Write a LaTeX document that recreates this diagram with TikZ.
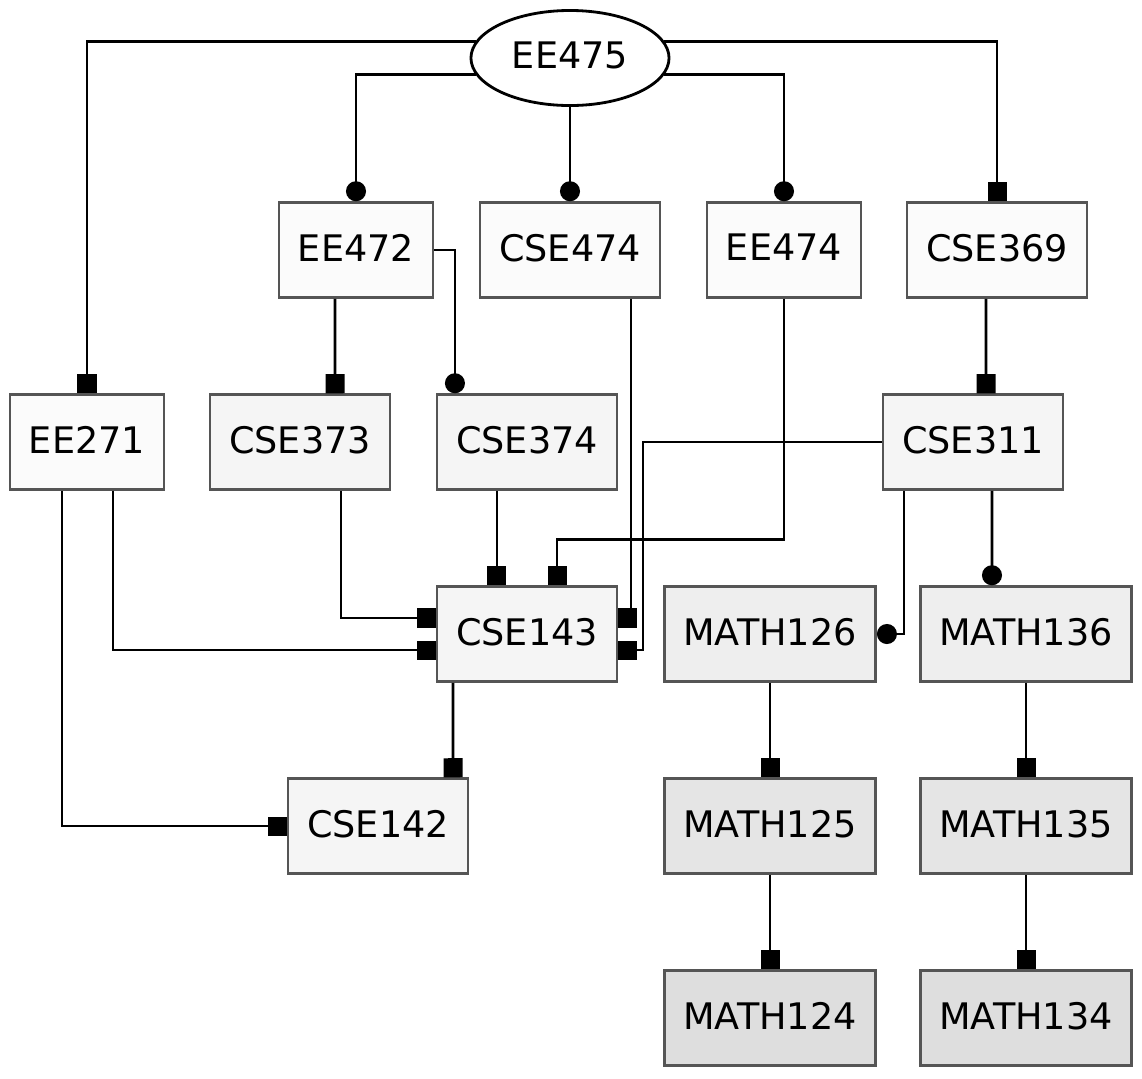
\documentclass[tikz,border=0pt]{standalone}
\usepackage{fontspec}
\setmainfont{DejaVu Sans}
\usetikzlibrary{arrows.meta,shapes.geometric}

\definecolor{fillA}{HTML}{FBFBFB}
\definecolor{fillB}{HTML}{F5F5F5}
\definecolor{fillC}{HTML}{EEEEEE}
\definecolor{fillD}{HTML}{E5E5E5}
\definecolor{fillE}{HTML}{DEDEDE}
\definecolor{boxline}{HTML}{555555}

\begin{document}
\begin{tikzpicture}[x=0.01cm,y=-0.01cm]

\useasboundingbox (0,0) rectangle (1142,1078);

\tikzset{Course/.style={shape=rectangle, draw=boxline, line width=0.7pt,
        minimum height=0.95cm, inner xsep=0.19cm, text depth=0.05cm,
        font=\fontsize{10.4}{12}\selectfont}}

\begin{scope}[every node/.style={Course}]
    % Top course
    \node (EE475) at (570,58) [shape=ellipse, draw=black, line width=0.8pt,
        minimum width=1.98cm, minimum height=0.95cm, inner sep=0pt] {EE475};

    % Second row
    \node (EE472) at (356,250) [fill=fillA] {EE472};
    \node (CSE474) at (570,250) [fill=fillA] {CSE474};
    \node (EE474) at (784,250) [fill=fillA] {EE474};
    \node (CSE369) at (997,250) [fill=fillA] {CSE369};

    % Third row
    \node (EE271) at (87,442) [fill=fillA] {EE271};
    \node (CSE373) at (300,442) [fill=fillB] {CSE373};
    \node (CSE374) at (527,442) [fill=fillB] {CSE374};
    \node (CSE311) at (973,442) [fill=fillB] {CSE311};

    % Fourth row
    \node (CSE143) at (527,634) [fill=fillB] {CSE143};
    \node (MATH126) at (770,634) [fill=fillC] {MATH126};
    \node (MATH136) at (1026,634) [fill=fillC] {MATH136};

    % Lower rows
    \node (CSE142) at (378,826) [fill=fillB] {CSE142};
    \node (MATH125) at (770,826) [fill=fillD] {MATH125};
    \node (MATH135) at (1026,826) [fill=fillD] {MATH135};
    \node (MATH124) at (770,1018) [fill=fillE] {MATH124};
    \node (MATH134) at (1026,1018) [fill=fillE] {MATH134};
\end{scope}

\tikzset{SqEnd/.style={-{Square[length=0.19cm,width=0.19cm]}},
         DotEnd/.style={-{Circle[length=0.2cm]}}}

\begin{scope}[line width=0.8pt]
    % Edges from EE475
    \draw [SqEnd] (EE475.170) -| (EE271);
    \draw [DotEnd] (EE475.190) -| (EE472);
    \draw [DotEnd] (EE475) -- (CSE474);
    \draw [DotEnd] (EE475.350) -| (EE474);
    \draw [SqEnd] (EE475.10) -| (CSE369);

    % Edges from the second row
    \draw [SqEnd] ([xshift=-0.21cm]EE472.south) -- ([xshift=0.35cm]CSE373.north);
    \draw [DotEnd] (EE472.east) -| ([xshift=-0.72cm]CSE374.north);
    \draw [SqEnd] ([xshift=0.61cm]CSE474.south) |- ([yshift=0.16cm]CSE143.east);
    \draw [SqEnd] (EE474.south) -- ++(0,241) -| ([xshift=0.3cm]CSE143.north);
    \draw [SqEnd] ([xshift=-0.11cm]CSE369.south) -- ([xshift=0.13cm]CSE311.north);

    % Edges into CSE143
    \draw [SqEnd] ([xshift=-0.3cm]CSE374.south) -- ([xshift=-0.3cm]CSE143.north);
    \draw [SqEnd] ([xshift=0.41cm]CSE373.south) |- ([yshift=0.16cm]CSE143.west);
    \draw [SqEnd] ([xshift=0.26cm]EE271.south) |- ([yshift=-0.16cm]CSE143.west);
    \draw [SqEnd] (CSE311.west) -- ++(-239,0) |- ([yshift=-0.16cm]CSE143.east);

    % Edges into CSE142
    \draw [SqEnd] ([xshift=-0.25cm]EE271.south) |- (CSE142.west);
    \draw [SqEnd] ([xshift=-0.74cm]CSE143.south) -- ([xshift=0.75cm]CSE142.north);

    % Math chain
    \draw [DotEnd] ([xshift=-0.69cm]CSE311.south) |- (MATH126.east);
    \draw [DotEnd] ([xshift=0.19cm]CSE311.south) -- ([xshift=-0.34cm]MATH136.north);
    \draw [SqEnd] (MATH126) -- (MATH125);
    \draw [SqEnd] (MATH125) -- (MATH124);
    \draw [SqEnd] (MATH136) -- (MATH135);
    \draw [SqEnd] (MATH135) -- (MATH134);
\end{scope}

\end{tikzpicture}
\end{document}
